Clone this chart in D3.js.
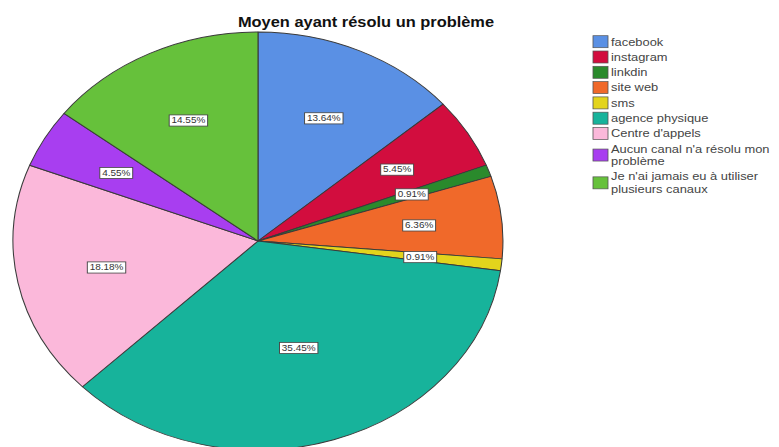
<!DOCTYPE html>
<html>
<head>
<meta charset="utf-8">
<script src="https://cdn.jsdelivr.net/npm/d3@7"></script>
<style>
  html, body { margin: 0; padding: 0; background: #fff; }
  svg { display: block; }
  text { font-family: "Liberation Sans", Arial, sans-serif; }
</style>
</head>
<body>
<svg id="chart" width="779" height="447"></svg>
<script>
// Survey answers: channel through which the problem was solved (n = 110)
const title = "Moyen ayant résolu un problème";
const categories = [
  "facebook", "instagram", "linkdin", "site web", "sms",
  "agence physique", "Centre d'appels",
  "Aucun canal n'a résolu mon problème",
  "Je n'ai jamais eu à utiliser plusieurs canaux"
];
const percents = [13.64, 5.45, 0.91, 6.36, 0.91, 35.45, 18.18, 4.55, 14.55];
const colors = [
  "#5a90e4", "#d20d3e", "#2a8a2c", "#f0692a", "#e3d41c",
  "#17b39b", "#fbb8da", "#a83ef0", "#66c13b"
];

const W = 779, H = 447;
const sx = 1.172;               // horizontal stretch of the whole figure
const svg = d3.select("#chart");
const root = svg.append("g").attr("transform", `scale(${sx},1)`);

// ---- title ----
root.append("text")
  .attr("x", 366 / sx).attr("y", 27)
  .attr("text-anchor", "middle")
  .attr("font-size", 14).attr("font-weight", "bold")
  .attr("fill", "#111")
  .text(title);

// ---- pie ----
const cx = 258 / sx, cy = 241, R = 209;
const data = categories.map((c, i) => ({ name: c, value: percents[i], color: colors[i] }));
const pie = d3.pie().value(d => d.value).sort(null)
  .startAngle(0).endAngle(2 * Math.PI);
const arcs = pie(data);
const arc = d3.arc().innerRadius(0).outerRadius(R);

// value labels sit at the area centroid of each sector
function sectorCentroid(d) {
  const th = d.endAngle - d.startAngle;
  const r = 4 * R * Math.sin(th / 2) / (3 * th);
  const mid = (d.startAngle + d.endAngle) / 2;
  return [r * Math.sin(mid), -r * Math.cos(mid)];
}

const gPie = root.append("g").attr("transform", `translate(${cx},${cy})`);
gPie.selectAll("path.slice").data(arcs).join("path")
  .attr("class", "slice")
  .attr("d", arc)
  .attr("fill", d => d.data.color)
  .attr("stroke", "#3a3a3a")
  .attr("stroke-width", 0.9)
  .attr("stroke-linejoin", "round");

const fmt = v => v.toFixed(2) + "%";
const labels = gPie.selectAll("g.lbl").data(arcs).join("g")
  .attr("class", "lbl")
  .attr("transform", d => `translate(${sectorCentroid(d)})`);
labels.append("text")
  .attr("text-anchor", "middle")
  .attr("dy", "0.35em")
  .attr("font-size", 8.5)
  .attr("fill", "#333")
  .text(d => fmt(d.data.value));
labels.each(function () {
  const g = d3.select(this);
  const bb = g.select("text").node().getBBox();
  g.insert("rect", "text")
    .attr("x", bb.x - 2).attr("y", bb.y - 1)
    .attr("width", bb.width + 4).attr("height", bb.height + 2)
    .attr("fill", "#fff")
    .attr("stroke", "#444").attr("stroke-width", 0.8);
});

// ---- legend ----
const legX = 593 / sx, textX = 611 / sx, wrapW = 143;
const lineH = 12.5, rowStep = 15.3, fs = 11;
const gLeg = root.append("g");
let y = 41.7;
data.forEach(d => {
  // word-wrap the legend entry
  const words = d.name.split(" ");
  const lines = [];
  let cur = "";
  const probe = gLeg.append("text").attr("font-size", fs);
  words.forEach(w => {
    const t = cur ? cur + " " + w : w;
    probe.text(t);
    if (probe.node().getComputedTextLength() > wrapW && cur) {
      lines.push(cur); cur = w;
    } else cur = t;
  });
  lines.push(cur);
  probe.remove();

  const midY = y + (lines.length - 1) * lineH / 2;
  gLeg.append("rect")
    .attr("x", legX).attr("y", midY - 6)
    .attr("width", 12.8).attr("height", 12)
    .attr("fill", d.color)
    .attr("stroke", "#555").attr("stroke-width", 0.7);
  lines.forEach((ln, k) => {
    gLeg.append("text")
      .attr("x", textX).attr("y", y + k * lineH)
      .attr("dy", "0.35em")
      .attr("font-size", fs)
      .attr("fill", "#444")
      .text(ln);
  });
  y += (lines.length - 1) * lineH + rowStep;
});
</script>
</body>
</html>
